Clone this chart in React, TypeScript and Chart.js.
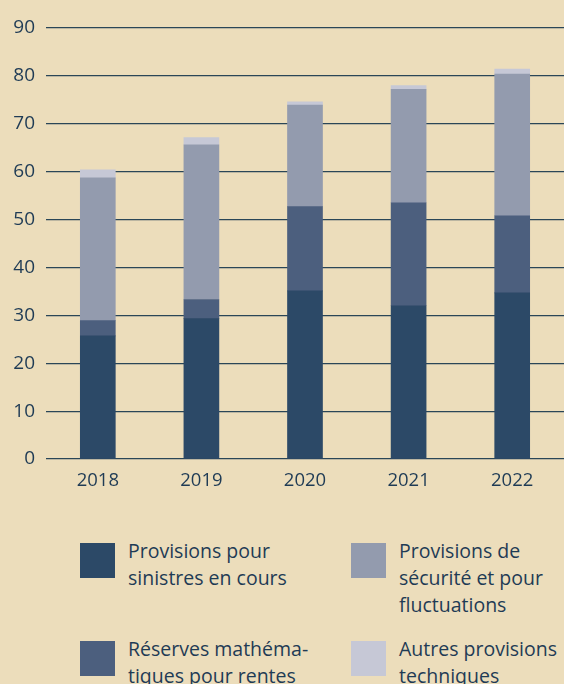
import React, { useEffect, useRef } from "react";
import { Chart, registerables } from "chart.js";

Chart.register(...registerables);

const categories = ["2018", "2019", "2020", "2021", "2022"];
const sinistres = [25.7, 29.3, 35.1, 32.0, 34.7];
const reserves = [3.2, 4.0, 17.6, 21.5, 16.1];
const securite = [29.8, 32.3, 21.2, 23.7, 29.6];
const autres = [1.7, 1.5, 0.7, 0.8, 1.0];
const yTicks = [0, 10, 20, 30, 40, 50, 60, 70, 80, 90];

const seriesLabels = [
  "Provisions pour sinistres en cours",
  "Réserves mathématiques pour rentes",
  "Provisions de sécurité et pour fluctuations",
  "Autres provisions techniques",
];
const colors = ["#2C4967", "#4C5F7E", "#939BAE", "#C6C8D6"];

const BG = "#ECDDBB";
const TEXT = "#1F3B55";
const FONT = "'Open Sans', sans-serif";

export default function App() {
  const ref = useRef<HTMLCanvasElement | null>(null);

  useEffect(() => {
    document.body.style.margin = "0";
    document.body.style.background = BG;
    if (!ref.current) return;
    const chart = new Chart(ref.current, {
      type: "bar",
      data: {
        labels: categories,
        datasets: [
          { label: seriesLabels[0], data: sinistres, backgroundColor: colors[0] },
          { label: seriesLabels[1], data: reserves, backgroundColor: colors[1] },
          { label: seriesLabels[2], data: securite, backgroundColor: colors[2] },
          { label: seriesLabels[3], data: autres, backgroundColor: colors[3] },
        ],
      },
      options: {
        animation: false,
        responsive: false,
        maintainAspectRatio: false,
        layout: { padding: { top: 28, right: 0, left: 0, bottom: 0 } },
        datasets: { bar: { barThickness: 35 } },
        plugins: { legend: { display: false }, tooltip: { enabled: false } },
        scales: {
          x: {
            stacked: true,
            grid: { display: false },
            border: { display: false },
            ticks: { color: TEXT, font: { family: FONT, size: 18.5 }, padding: 3 },
            afterFit: (s: any) => {
              s.height = 41;
            },
          },
          y: {
            stacked: true,
            min: 0,
            max: 90,
            afterBuildTicks: (s: any) => {
              s.ticks = yTicks.map((v) => ({ value: v }));
            },
            grid: {
              color: "#2A4657",
              lineWidth: 1.2,
              drawTicks: false,
            },
            border: { display: false },
            ticks: {
              color: TEXT,
              font: { family: FONT, size: 19 },
              padding: 11,
            },
            afterFit: (s: any) => {
              s.width = 46;
            },
          },
        },
      },
    });
    return () => chart.destroy();
  }, []);

  const legendItems = [
    { x: 80, y: 543, color: colors[0], lines: ["Provisions pour", "sinistres en cours"] },
    { x: 351, y: 543, color: colors[2], lines: ["Provisions de", "sécurité et pour", "fluctuations"] },
    { x: 80, y: 641, color: colors[1], lines: ["Réserves mathéma-", "tiques pour rentes"] },
    { x: 351, y: 641, color: colors[3], lines: ["Autres provisions", "techniques"] },
  ];

  return (
    <div
      style={{
        position: "relative",
        width: 564,
        height: 684,
        overflow: "hidden",
        background: BG,
      }}
    >
      <canvas ref={ref} width={564} height={500} style={{ display: "block" }} />
      {legendItems.map((it, i) => (
        <div key={i}>
          <div
            style={{
              position: "absolute",
              left: it.x,
              top: it.y,
              width: 35,
              height: 35,
              background: it.color,
            }}
          />
          <div
            style={{
              position: "absolute",
              left: it.x + 48,
              top: it.y - 6,
              fontFamily: FONT,
              fontSize: 19.5,
              lineHeight: "27px",
              color: TEXT,
              whiteSpace: "nowrap",
            }}
          >
            {it.lines.map((l, j) => (
              <div key={j}>{l}</div>
            ))}
          </div>
        </div>
      ))}
    </div>
  );
}
